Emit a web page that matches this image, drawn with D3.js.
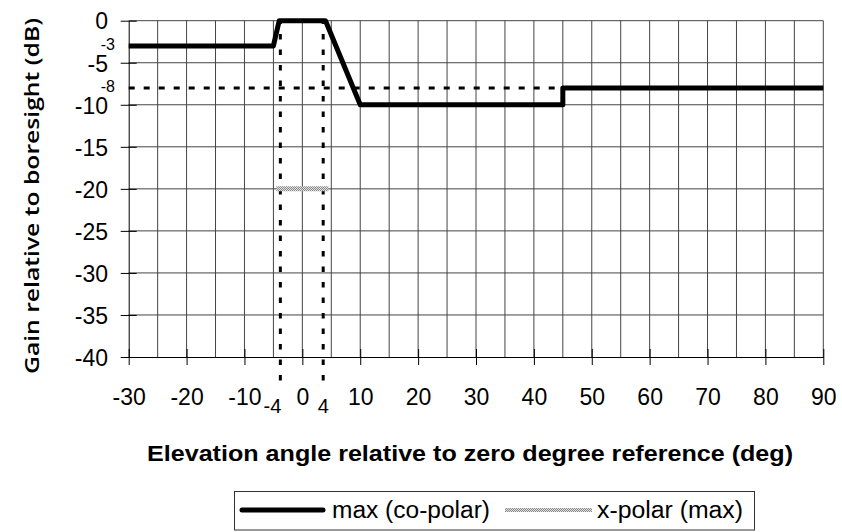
<!DOCTYPE html>
<html><head><meta charset="utf-8">
<script src="https://cdn.jsdelivr.net/npm/d3@7"></script>
<style>
html,body{margin:0;padding:0;background:#fff;}
svg{display:block;}
</style></head>
<body>
<svg id="c" width="842" height="532"></svg>
<script>
// ---- data ----
const coPolarX = [-30, -5, -4, 4, 10, 45, 45, 90];
const coPolarY = [-3, -3, 0, 0, -10, -10, -8, -8];
const xPolarX = [-4.5, 4.5];
const xPolarY = [-20, -20];
const refHX = [-30, 45];
const refHY = [-8, -8];
const refVX = [-3.8, 3.6];
const refVY = [0, -42.8];
const xTicks = [-30, -20, -10, 0, 10, 20, 30, 40, 50, 60, 70, 80, 90];
const yTicks = [0, -5, -10, -15, -20, -25, -30, -35, -40];
const yExtraTicks = [-3, -8];
const xExtraLabels = ["-4", "4"];
const legendLabels = ["max (co-polar)", "x-polar (max)"];
const xTitle = "Elevation angle relative to zero degree reference (deg)";
const yTitle = "Gain relative to boresight (dB)";

const svg = d3.select("#c");
const x = d3.scaleLinear().domain([-30, 90]).range([128.7, 823.3]);
const y = d3.scaleLinear().domain([0, -40]).range([20.7, 357]);
const fmt = d => String(d);

const defs = svg.append("defs");
const pat = defs.append("pattern").attr("id", "hatch").attr("patternUnits", "userSpaceOnUse")
  .attr("width", 2).attr("height", 2);
pat.append("rect").attr("width", 2).attr("height", 2).attr("fill", "#e0e0e0");
pat.append("rect").attr("width", 1).attr("height", 1).attr("fill", "#8a8a8a");
pat.append("rect").attr("x", 1).attr("y", 1).attr("width", 1).attr("height", 1).attr("fill", "#8a8a8a");

// gridlines
const g = svg.append("g");
g.selectAll("line.vg").data(x.ticks(24).filter(d => d > -30)).join("line")
  .attr("x1", d => x(d)).attr("x2", d => x(d)).attr("y1", y(0)).attr("y2", y(-40))
  .attr("stroke", "#444").attr("stroke-width", 1);
g.selectAll("line.hg").data(yTicks.filter(d => d > -40)).join("line")
  .attr("x1", x(-30)).attr("x2", x(90)).attr("y1", d => y(d)).attr("y2", d => y(d))
  .attr("stroke", "#444").attr("stroke-width", 1);

// axes
const tickFont = "'Liberation Sans', Arial, sans-serif";
const ya = svg.append("g").attr("transform", `translate(${x(-30)},0)`)
  .call(d3.axisLeft(y).tickValues(yTicks).tickFormat(fmt).tickSizeInner(8).tickSizeOuter(0).tickPadding(12.7));
ya.select(".domain").attr("stroke", "#000");
ya.selectAll(".tick line").attr("x1", -8).attr("x2", 8).attr("stroke", "#000");
ya.selectAll(".tick text").attr("font-family", tickFont).attr("font-size", 23).attr("fill", "#000").attr("dy", "0.36em");

const xa = svg.append("g").attr("transform", `translate(0,${y(-40)})`)
  .call(d3.axisBottom(x).tickValues(xTicks).tickFormat(fmt).tickSizeInner(8).tickSizeOuter(0).tickPadding(8));
xa.select(".domain").attr("stroke", "#000");
xa.selectAll(".tick line").attr("y1", -8).attr("y2", 8).attr("stroke", "#000");
xa.selectAll(".tick text").attr("font-family", tickFont).attr("font-size", 23).attr("fill", "#000")
  .attr("y", 48).attr("dy", 0);

// extra y labels
svg.selectAll("text.ye").data(yExtraTicks).join("text")
  .attr("x", 115).attr("y", d => y(d) - 2).attr("dy", "0.36em")
  .attr("text-anchor", "end").attr("font-family", tickFont).attr("font-size", 16).text(fmt);

// extra x labels
svg.append("text").attr("x", x(refVX[0]) + 1).attr("y", 413).attr("text-anchor", "end")
  .attr("font-family", tickFont).attr("font-size", 20).text(xExtraLabels[0]);
svg.append("text").attr("x", x(refVX[1])).attr("y", 413).attr("text-anchor", "middle")
  .attr("font-family", tickFont).attr("font-size", 20).text(xExtraLabels[1]);

// reference dashed lines
const line = d3.line().x(d => x(d[0])).y(d => y(d[1]));
svg.append("path").attr("d", line(refHX.map((v, i) => [v, refHY[i]])))
  .attr("stroke", "#000").attr("stroke-width", 3).attr("fill", "none").attr("stroke-dasharray", "6,9");
refVX.forEach(v => {
  svg.append("path").attr("d", line(refVY.map(yy => [v, yy]).slice().reverse()))
    .attr("stroke", "#000").attr("stroke-width", 3).attr("fill", "none").attr("stroke-dasharray", "5.5,10");
});

// x-polar
svg.append("path").attr("d", line(xPolarX.map((v, i) => [v, xPolarY[i]])))
  .attr("stroke", "url(#hatch)").attr("stroke-width", 5).attr("fill", "none");

// co-polar
svg.append("path").attr("d", line(coPolarX.map((v, i) => [v, coPolarY[i]])))
  .attr("stroke", "#000").attr("stroke-width", 5).attr("fill", "none")
  .attr("stroke-linejoin", "round").attr("stroke-linecap", "butt");

// titles
svg.append("text").attr("x", 470).attr("y", 461).attr("text-anchor", "middle")
  .attr("font-family", tickFont).attr("font-weight", "bold").attr("font-size", 22)
  .attr("textLength", 646).attr("lengthAdjust", "spacingAndGlyphs").text(xTitle);
svg.append("text").attr("transform", "translate(39,196) rotate(-90)").attr("text-anchor", "middle")
  .attr("font-family", "'Open Sans', 'DejaVu Sans', sans-serif").attr("font-weight", 600).attr("font-size", 20)
  .attr("textLength", 356).attr("lengthAdjust", "spacingAndGlyphs").text(yTitle);

// legend
const lg = svg.append("g");
lg.append("rect").attr("x", 234.5).attr("y", 491.5).attr("width", 520).attr("height", 38.5)
  .attr("fill", "#fff").attr("stroke", "#333").attr("stroke-width", 1);
lg.append("line").attr("x1", 242).attr("x2", 323).attr("y1", 510).attr("y2", 510)
  .attr("stroke", "#000").attr("stroke-width", 5).attr("stroke-linecap", "round");
lg.append("text").attr("x", 332).attr("y", 510).attr("dy", "0.36em")
  .attr("font-family", tickFont).attr("font-size", 23)
  .attr("textLength", 158).attr("lengthAdjust", "spacingAndGlyphs").text(legendLabels[0]);
lg.append("line").attr("x1", 505).attr("x2", 592).attr("y1", 510).attr("y2", 510)
  .attr("stroke", "url(#hatch)").attr("stroke-width", 4);
lg.append("text").attr("x", 597).attr("y", 510).attr("dy", "0.36em")
  .attr("font-family", tickFont).attr("font-size", 23)
  .attr("textLength", 146).attr("lengthAdjust", "spacingAndGlyphs").text(legendLabels[1]);
</script>
</body></html>
